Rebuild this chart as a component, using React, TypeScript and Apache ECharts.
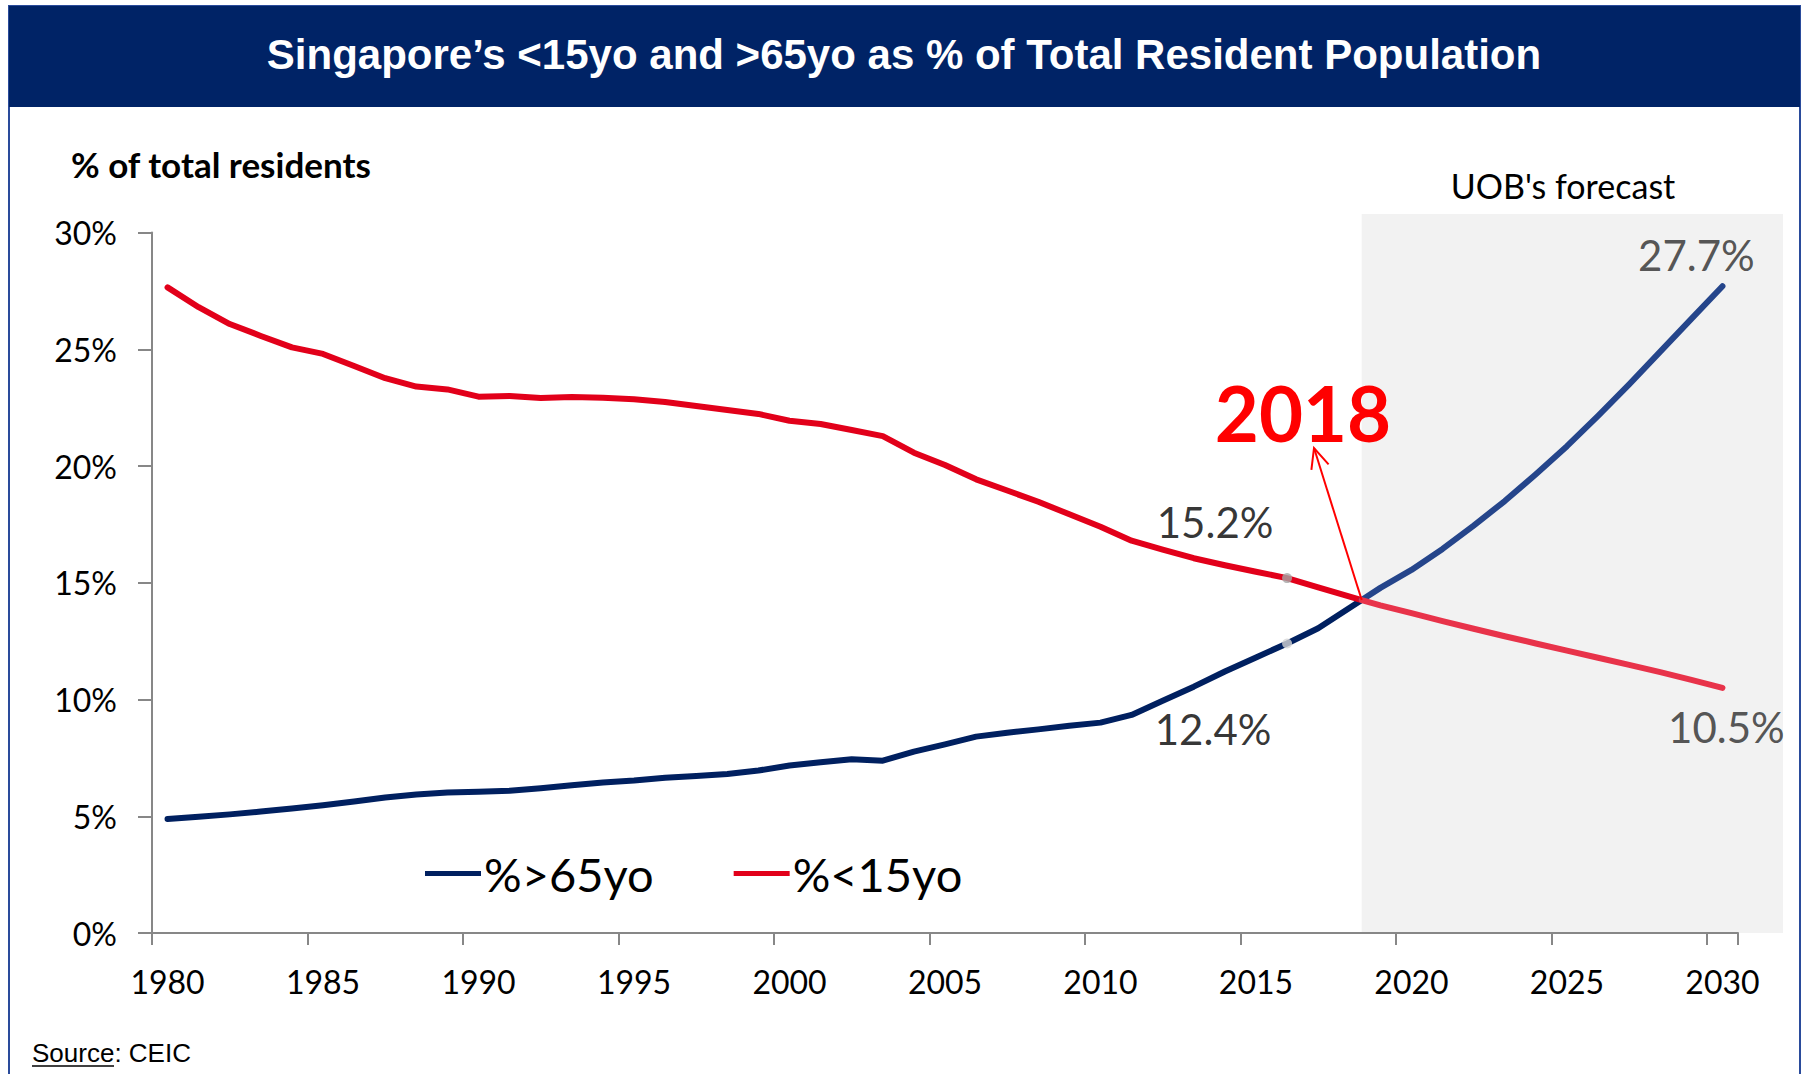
import React, { useEffect, useRef } from "react";
import * as echarts from "echarts";

// ---------- DATA ----------
const AXIS_YEARS: string[] = Array.from({ length: 51 }, (_, i) => String(1980 + i));

const HIST_YEARS = [
  1980, 1981, 1982, 1983, 1984, 1985, 1986, 1987, 1988, 1989,
  1990, 1991, 1992, 1993, 1994, 1995, 1996, 1997, 1998, 1999,
  2000, 2001, 2002, 2003, 2004, 2005, 2006, 2007, 2008, 2009,
  2010, 2011, 2012, 2013, 2014, 2015, 2016, 2017,
];
const OVER65_HIST = [
  4.88, 4.98, 5.08, 5.2, 5.33, 5.47, 5.63, 5.8, 5.93, 6.02,
  6.05, 6.09, 6.2, 6.33, 6.45, 6.53, 6.65, 6.72, 6.81, 6.96,
  7.17, 7.31, 7.44, 7.38, 7.77, 8.08, 8.41, 8.58, 8.72, 8.88,
  9.01, 9.34, 9.95, 10.55, 11.2, 11.8, 12.4, 13.05,
];
const UNDER15_HIST = [
  27.65, 26.8, 26.08, 25.57, 25.08, 24.8, 24.28, 23.76, 23.4, 23.28,
  22.97, 23.0, 22.91, 22.95, 22.92, 22.86, 22.74, 22.57, 22.4, 22.23,
  21.94, 21.8, 21.54, 21.28, 20.57, 20.04, 19.43, 18.95, 18.47, 17.93,
  17.4, 16.8, 16.42, 16.05, 15.75, 15.47, 15.2, 14.8,
];
// point where both lines meet (2018) and forecast starts
const CROSS_YEAR = 2018.4;
const CROSS_VALUE = 14.26;

const FC_YEARS = [2019, 2020, 2021, 2022, 2023, 2024, 2025, 2026, 2027, 2028, 2029, 2030];
const OVER65_FC = [14.78, 15.55, 16.45, 17.45, 18.5, 19.65, 20.85, 22.15, 23.5, 24.9, 26.3, 27.7];
const UNDER15_FC = [14.03, 13.7, 13.36, 13.03, 12.71, 12.4, 12.09, 11.79, 11.48, 11.17, 10.84, 10.5];

const MARK_YEAR = 2016;

const NAME_OLD = "%>65yo";
const NAME_YOUNG = "%<15yo";

// ---------- STYLE ----------
const NAVY = "#002060";
const RED = "#e2001a";
const NAVY_FC = "#25458b";
const RED_FC = "#e8334a";
const FONT = "Lato, 'Open Sans', sans-serif";

const pairs = (xs: number[], ys: number[]) => xs.map((x, i) => [x, ys[i]]);

export default function App() {
  const ref = useRef<HTMLDivElement | null>(null);

  useEffect(() => {
    if (!ref.current) return;
    const chart = echarts.init(ref.current, undefined, { renderer: "svg" });

    const markIdx = HIST_YEARS.indexOf(MARK_YEAR);
    const lastFc = FC_YEARS.length - 1;

    const option: any = {
      animation: false,
      backgroundColor: "#ffffff",
      grid: { left: 152, right: 65, top: 232.5, bottom: 141, containLabel: false },
      legend: {
        data: [NAME_OLD, NAME_YOUNG],
        left: 420,
        top: 845,
        icon: "rect",
        itemWidth: 56,
        itemHeight: 5,
        itemGap: 80,
        textStyle: { fontFamily: FONT, fontSize: 47, color: "#000", padding: [0, 0, 0, -2] },
      },
      xAxis: [
        {
          type: "category",
          data: AXIS_YEARS,
          boundaryGap: true,
          axisLine: { lineStyle: { color: "#878787", width: 2 } },
          axisTick: {
            show: true,
            interval: (i: number) => i % 5 === 0 && i < AXIS_YEARS.length,
            length: 12,
            lineStyle: { color: "#878787", width: 2 },
          },
          axisLabel: { interval: 4, margin: 32, fontFamily: FONT, fontSize: 32, color: "#000" },
          splitLine: { show: false },
        },
        {
          type: "value",
          min: 1979.5,
          max: 2030.5,
          show: false,
          splitLine: { show: false },
        },
      ],
      yAxis: {
        type: "value",
        min: 0,
        max: 30,
        interval: 5,
        axisLine: { show: true, lineStyle: { color: "#878787", width: 2 } },
        axisTick: { show: true, length: 14, lineStyle: { color: "#878787", width: 2 } },
        axisLabel: {
          margin: 35,
          fontFamily: FONT,
          fontSize: 32,
          color: "#000",
          formatter: (v: number) => `${v}%`,
        },
        splitLine: { show: false },
      },
      series: [
        {
          name: NAME_OLD,
          type: "line",
          xAxisIndex: 1,
          data: [...pairs(HIST_YEARS, OVER65_HIST), [CROSS_YEAR, CROSS_VALUE]],
          symbol: "none",
          lineStyle: { color: NAVY, width: 6, cap: "round", join: "round" },
          itemStyle: { color: NAVY },
          z: 3,
        },
        {
          name: NAME_YOUNG,
          type: "line",
          xAxisIndex: 1,
          data: [...pairs(HIST_YEARS, UNDER15_HIST), [CROSS_YEAR, CROSS_VALUE]],
          symbol: "none",
          lineStyle: { color: RED, width: 6, cap: "round", join: "round" },
          itemStyle: { color: RED },
          z: 3,
        },
        {
          name: NAME_OLD,
          type: "line",
          xAxisIndex: 1,
          data: [[CROSS_YEAR, CROSS_VALUE], ...pairs(FC_YEARS, OVER65_FC)],
          symbol: "none",
          lineStyle: { color: NAVY_FC, width: 6, cap: "round", join: "round" },
          itemStyle: { color: NAVY },
          z: 4,
        },
        {
          name: NAME_YOUNG,
          type: "line",
          xAxisIndex: 1,
          data: [[CROSS_YEAR, CROSS_VALUE], ...pairs(FC_YEARS, UNDER15_FC)],
          symbol: "none",
          lineStyle: { color: RED_FC, width: 6, cap: "round", join: "round" },
          itemStyle: { color: RED },
          z: 4,
        },
        {
          name: "marks",
          type: "scatter",
          xAxisIndex: 1,
          symbol: "circle",
          symbolSize: 10,
          z: 6,
          label: {
            show: true,
            position: "inside",
            fontFamily: FONT,
            fontSize: 42,
            color: "#000",
            formatter: (p: any) => `${p.value[1].toFixed(1)}%`,
          },
          data: [
            {
              value: [MARK_YEAR, UNDER15_HIST[markIdx]],
              itemStyle: { color: "#a6a6a6" },
              label: { offset: [-72, -56] },
            },
            {
              value: [MARK_YEAR, OVER65_HIST[markIdx]],
              itemStyle: { color: "#d6d6d6" },
              label: { offset: [-74, 86] },
            },
            {
              value: [FC_YEARS[lastFc], OVER65_FC[lastFc]],
              symbolSize: 0,
              label: { offset: [-26, -31], color: "#2b2b2b" },
            },
            {
              value: [FC_YEARS[lastFc], UNDER15_FC[lastFc]],
              symbolSize: 0,
              label: { offset: [4, 39], color: "#2b2b2b" },
            },
          ],
        },
      ],
    };

    chart.setOption(option);

    // annotations positioned from the axes
    const cross = chart.convertToPixel({ xAxisIndex: 1, yAxisIndex: 0 }, [CROSS_YEAR, CROSS_VALUE]) as number[];
    const axisBottom = chart.convertToPixel({ yAxisIndex: 0 }, 0) as number;
    const cx = cross[0];
    const cy = cross[1];
    const tip = [1314, 448];
    const dx = tip[0] - cx;
    const dy = tip[1] - cy;
    const len = Math.sqrt(dx * dx + dy * dy);
    const ux = dx / len;
    const uy = dy / len;
    const headL = 20;
    const headW = 9;
    const arm1 = [tip[0] - ux * headL - uy * headW, tip[1] - uy * headL + ux * headW];
    const arm2 = [tip[0] - ux * headL + uy * headW, tip[1] - uy * headL - ux * headW];

    chart.setOption({
      graphic: [
        {
          type: "rect",
          z: -20,
          shape: { x: 9, y: 6, width: 1791, height: 1100 },
          style: { fill: "#ffffff", stroke: "#2a4b9b", lineWidth: 2 },
        },
        {
          type: "rect",
          z: -19,
          shape: { x: 9, y: 6, width: 1791, height: 101 },
          style: { fill: "#002366" },
        },
        {
          type: "text",
          z: 10,
          style: {
            text: "Singapore\u2019s <15yo and >65yo as % of Total Resident Population",
            x: 904,
            y: 54,
            align: "center",
            verticalAlign: "middle",
            fill: "#ffffff",
            font: "bold 42px 'Liberation Sans', Arial, sans-serif",
          },
        },
        {
          type: "text",
          z: 10,
          style: {
            text: "% of total residents",
            x: 71,
            y: 164,
            align: "left",
            verticalAlign: "middle",
            fill: "#000",
            font: `bold 35px ${FONT}`,
          },
        },
        {
          type: "rect",
          z: -5,
          shape: { x: cx, y: 214, width: 1783 - cx, height: axisBottom - 214 },
          style: { fill: "#f2f2f2" },
        },
        {
          type: "text",
          z: 10,
          style: {
            text: "UOB's forecast",
            x: 1563,
            y: 185,
            align: "center",
            verticalAlign: "middle",
            fill: "#000",
            font: `34px ${FONT}`,
          },
        },
        {
          type: "text",
          z: 10,
          style: {
            text: "2018",
            x: 1303,
            y: 412,
            align: "center",
            verticalAlign: "middle",
            fill: "#ff0000",
            font: `bold 76px ${FONT}`,
          },
        },
        {
          type: "line",
          z: 10,
          shape: { x1: cx, y1: cy, x2: tip[0], y2: tip[1] },
          style: { stroke: "#ff0000", lineWidth: 2 },
        },
        {
          type: "polyline",
          z: 10,
          shape: { points: [arm1, tip, arm2] },
          style: { stroke: "#ff0000", lineWidth: 2, fill: null },
        },
        {
          type: "text",
          z: 10,
          style: {
            text: "Source: CEIC",
            x: 32,
            y: 1053,
            align: "left",
            verticalAlign: "middle",
            fill: "#000",
            font: "26px 'Liberation Sans', Arial, sans-serif",
          },
        },
        {
          type: "line",
          z: 10,
          shape: { x1: 32, y1: 1066, x2: 114, y2: 1066 },
          style: { stroke: "#000", lineWidth: 1.5 },
        },
      ],
    });

    return () => chart.dispose();
  }, []);

  return (
    <div
      ref={ref}
      style={{ position: "fixed", left: 0, top: 0, width: 1803, height: 1074, background: "#fff" }}
    />
  );
}
